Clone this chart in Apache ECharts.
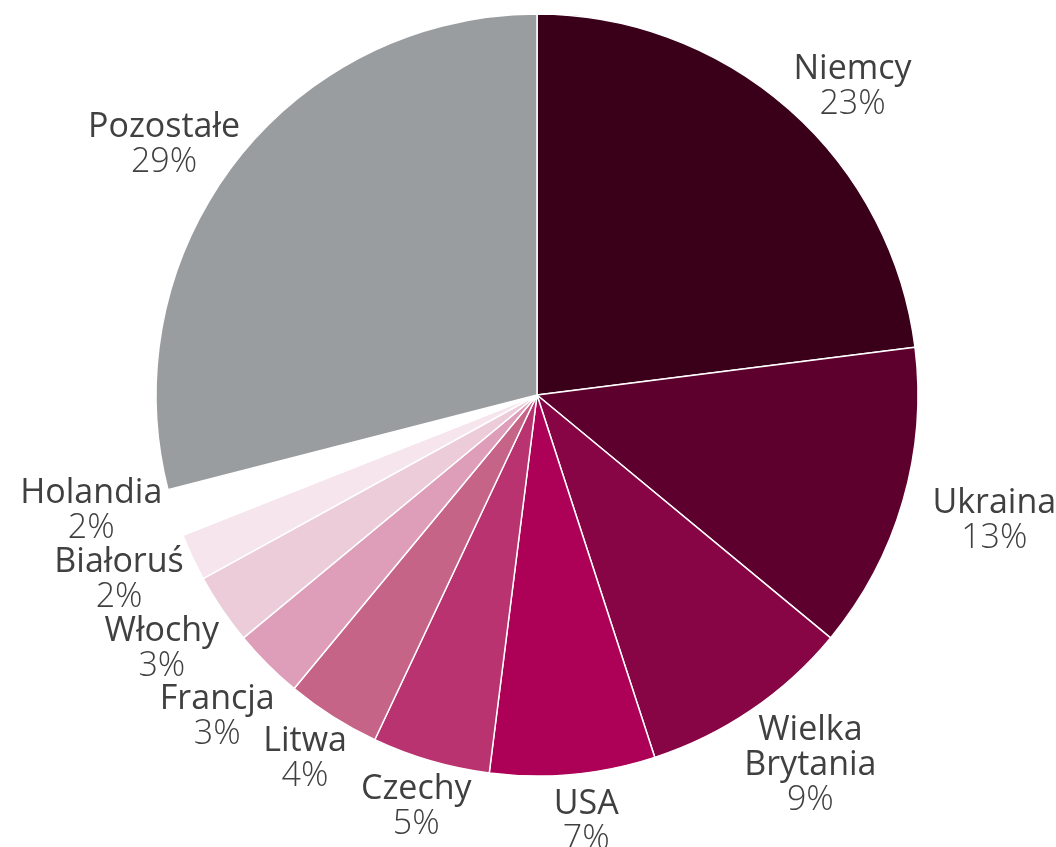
<!DOCTYPE html>
<html><head><meta charset="utf-8">
<script src="https://cdn.jsdelivr.net/npm/echarts@6/dist/echarts.min.js"></script>
<style>html,body{margin:0;padding:0;background:#fff}#c{width:1056px;height:847px}</style>
</head><body><div id="c"></div>
<script>
const categories = ['Niemcy','Ukraina','Wielka Brytania','USA','Czechy','Litwa','Francja','Włochy','Białoruś','Holandia','Pozostałe'];
const shares = [23,13,9,7,5,4,3,3,2,2,29];
const labelTexts = ['Niemcy','Ukraina','Wielka\nBrytania','USA','Czechy','Litwa','Francja','Włochy','Białoruś','Holandia','Pozostałe'];
const colors = ['#3a0019','#5e002d','#870544','#ad0057','#b8336f','#c66488','#de9db8','#ebccd8','#f6e5ec','#ffffff','#9a9da0'];

const CX = 537, CY = 395, R = 381, GX = 25, GY = 5, XOFF = 8, YOFF = 8;
const FS = 34, LH = 35, FONT = '"Open Sans"';
const total = shares.reduce((a,b)=>a+b,0);
function midAngle(i){ let s=0; for(let k=0;k<i;k++) s+=shares[k]; return (s + shares[i]/2)/total*2*Math.PI; }

// measure label blocks
const ctx = document.createElement('canvas').getContext('2d');
function tw(str, weight){ ctx.font = weight + ' ' + FS + 'px ' + FONT; return ctx.measureText(str).width; }
const boxes = shares.map((v,i)=>{
  const names = labelTexts[i].split('\n');
  const w = Math.max(...names.map(s=>tw(s,400)), tw(v+'%',300));
  const h = (names.length+1)*LH;
  const a = midAngle(i), ux = Math.sin(a), uy = -Math.cos(a);
  return {w, h, x: CX + R*ux + ux*(w/2+GX) + XOFF, y: CY + R*uy + uy*(h/2+GY) + YOFF};
});
// simple vertical overlap relaxation
for (let it=0; it<200; it++){
  let moved = false;
  for (let i=0;i<boxes.length;i++) for (let j=i+1;j<boxes.length;j++){
    const A = boxes[i], B = boxes[j];
    const ox = Math.min(A.x+A.w/2, B.x+B.w/2) - Math.max(A.x-A.w/2, B.x-B.w/2);
    const oy = Math.min(A.y+A.h/2, B.y+B.h/2) - Math.max(A.y-A.h/2, B.y-B.h/2) - 2;
    if (ox > 20 && oy > 0){
      const d = oy/2 + 0.5;
      if (A.y <= B.y){ A.y -= d; B.y += d; } else { A.y += d; B.y -= d; }
      moved = true;
    }
  }
  if (!moved) break;
}

const chart = echarts.init(document.getElementById('c'));
chart.setOption({
  animation:false,
  series:[{
    type:'pie',
    center:[CX, CY],
    radius:[0, R],
    startAngle:90,
    clockwise:true,
    avoidLabelOverlap:false,
    emphasis:{disabled:true},
    itemStyle:{borderColor:'#ffffff', borderWidth:1.5},
    labelLine:{show:false},
    label:{
      show:true,
      position:'outside',
      formatter:function(p){
        const lines = labelTexts[p.dataIndex].split('\n').map(s=>'{n|'+s+'}');
        lines.push('{p|'+shares[p.dataIndex]+'%}');
        return lines.join('\n');
      },
      rich:{
        n:{fontFamily:'Open Sans', fontSize:FS, color:'#404040', lineHeight:LH, align:'center'},
        p:{fontFamily:'Open Sans', fontSize:FS, fontWeight:300, color:'#404040', lineHeight:LH, align:'center'}
      }
    },
    labelLayout:function(p){
      const b = boxes[p.dataIndex];
      return {x: b.x, y: b.y, align:'center', verticalAlign:'middle'};
    },
    data: categories.map((c,i)=>({name:c, value:shares[i], itemStyle:{color:colors[i]}}))
  }]
});
</script></body></html>
